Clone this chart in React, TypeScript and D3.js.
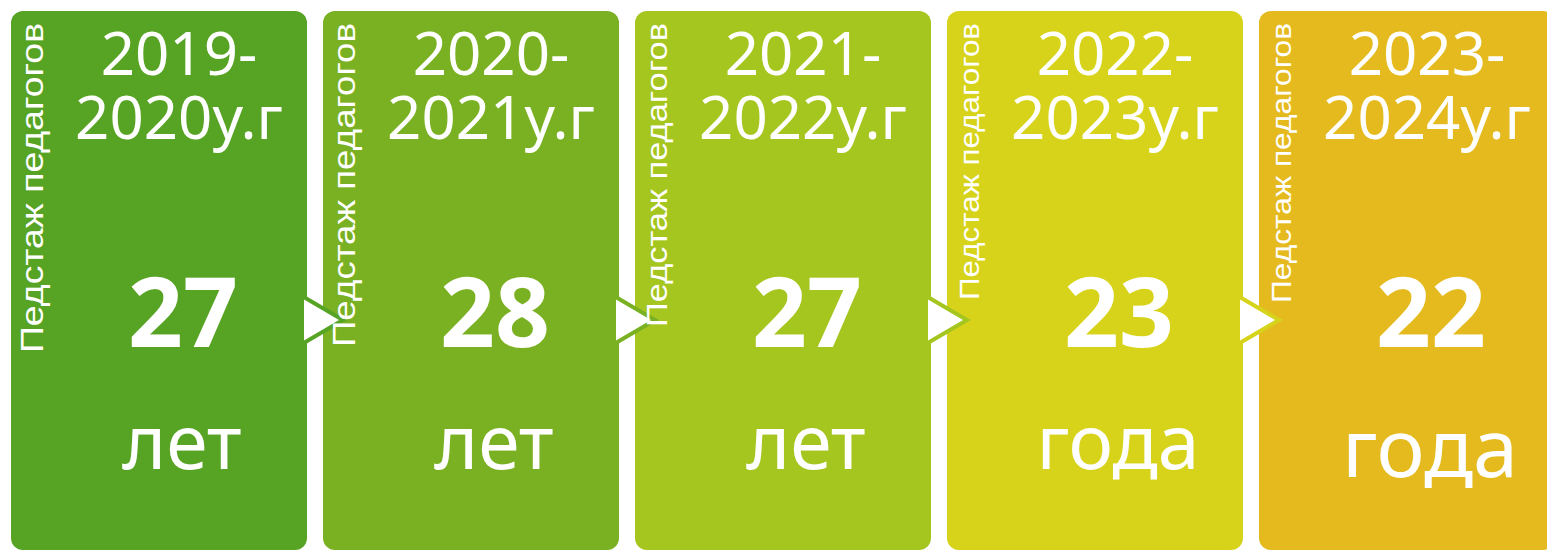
import React from "react";
import * as d3 from "d3";

const years = ["2019-2020у.г", "2020-2021у.г", "2021-2022у.г", "2022-2023у.г", "2023-2024у.г"];
const values = [27, 28, 27, 23, 22];
const units = ["лет", "лет", "лет", "года", "года"];
const sideLabel = "Педстаж педагогов";

// styles / layout (not data)
const colors = ["#57A324", "#7AB122", "#A5C51F", "#D7D31B", "#E5BA1F"];
const sideLen = [330, 324, 304, 277, 280];
const unitSize = [75, 75, 75, 75, 81];
const unitBase = [469, 469, 469, 469, 477];

const W = 1547;
const H = 552;

export default function App() {
  const x = d3
    .scaleBand<number>()
    .domain(d3.range(years.length))
    .range([11, 1555])
    .paddingInner(16 / 312)
    .paddingOuter(0);
  const bw = x.bandwidth();
  const top = 11;
  const bottom = 550;
  const arrowY = 320;

  return (
    <svg
      width={W}
      height={H}
      style={{ position: "fixed", left: 0, top: 0, display: "block", background: "#fff" }}
    >
      {years.map((y, i) => (
        <rect
          key={"c" + i}
          x={x(i)!}
          y={top}
          width={bw}
          height={bottom - top}
          rx={12}
          ry={12}
          fill={colors[i]}
        />
      ))}
      {years.slice(0, -1).map((_, i) => {
        const lx = x(i)! + bw - 5;
        const path = d3.path();
        path.moveTo(lx, arrowY - 24);
        path.lineTo(lx + 41, arrowY);
        path.lineTo(lx, arrowY + 24);
        path.closePath();
        return (
          <path
            key={"a" + i}
            d={path.toString()}
            fill="#fff"
            stroke={colors[i]}
            strokeWidth={4}
            strokeLinejoin="miter"
          />
        );
      })}
      {years.map((y, i) => {
        const cx = x(i)!;
        const [l1, l2] = [y.slice(0, 5), y.slice(5)];
        const fs = (sideLen[i] / 330) * 32;
        return (
          <g key={"t" + i} fill="#fff">
            <text
              transform={`translate(${cx + 32},${23 + sideLen[i]}) rotate(-90)`}
              fontFamily="'Liberation Sans', Arial, sans-serif"
              fontSize={fs}
              textLength={sideLen[i]}
              lengthAdjust="spacingAndGlyphs"
            >
              {sideLabel}
            </text>
            <text
              textAnchor="middle"
              fontFamily="'Noto Sans', sans-serif"
              fontSize={60}
            >
              <tspan x={cx + 168} y={75}>{l1}</tspan>
              <tspan x={cx + 168} y={139}>{l2}</tspan>
            </text>
            <text
              x={cx + 172}
              y={347}
              textAnchor="middle"
              fontFamily="'Noto Sans', sans-serif"
              fontWeight="bold"
              fontSize={96}
            >
              {values[i]}
            </text>
            <text
              x={cx + 171}
              y={unitBase[i]}
              textAnchor="middle"
              fontFamily="'Noto Sans', sans-serif"
              fontSize={unitSize[i]}
            >
              {units[i]}
            </text>
          </g>
        );
      })}
    </svg>
  );
}
